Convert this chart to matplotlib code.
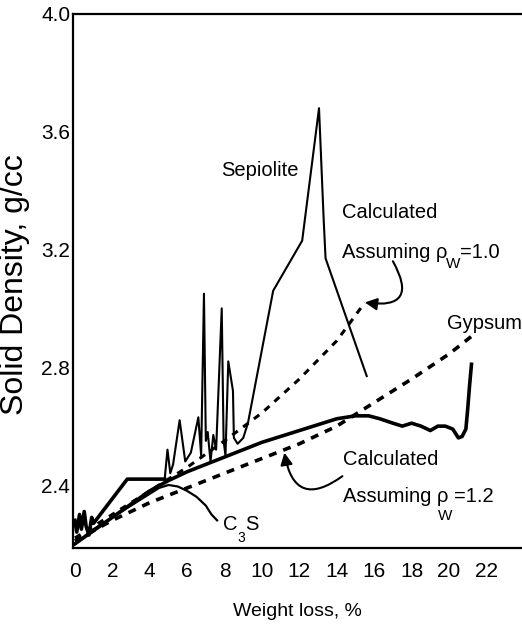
# Solid density vs weight loss
import matplotlib
matplotlib.use('Agg')
import matplotlib.pyplot as plt

plt.rcParams['font.family'] = ['Liberation Sans', 'DejaVu Sans']

# thick smooth curve with hook at the end
thick_x = [0, 1, 2, 3, 4, 5, 6, 7, 8, 9, 10, 11, 12, 13, 14, 15, 15.7, 16.3, 17.0, 17.5,
           18.0, 18.5, 19.0, 19.4, 19.8, 20.2, 20.5, 20.7, 20.9, 21.0, 21.1, 21.2]
thick_y = [2.20, 2.245, 2.29, 2.335, 2.38, 2.415, 2.445, 2.47, 2.495, 2.52, 2.545, 2.565,
           2.585, 2.605, 2.625, 2.635, 2.635, 2.625, 2.61, 2.60, 2.61, 2.60, 2.585, 2.60,
           2.60, 2.59, 2.56, 2.565, 2.59, 2.66, 2.74, 2.81]

# thick stepped start of the sepiolite record
step_x = [0, 0.1, 0.25, 0.35, 0.5, 0.6, 0.75, 0.9, 1.0, 2.8, 4.8]
step_y = [2.28, 2.24, 2.30, 2.25, 2.31, 2.26, 2.23, 2.29, 2.27, 2.42, 2.42]

# sepiolite (thin)
sep_x = [4.8, 4.95, 5.1, 5.25, 5.6, 5.9, 6.2, 6.6, 6.75, 6.9, 7.0, 7.1, 7.25, 7.4, 7.55,
         7.85, 7.95, 8.05, 8.2, 8.45, 8.5, 8.7, 9.0, 9.25, 10.6, 12.15, 13.05, 13.3, 13.4, 15.6]
sep_y = [2.42, 2.52, 2.44, 2.47, 2.62, 2.48, 2.51, 2.63, 2.50, 3.05, 2.55, 2.58, 2.48, 2.57,
         2.52, 3.00, 2.55, 2.50, 2.82, 2.72, 2.56, 2.54, 2.56, 2.61, 3.06, 3.23, 3.68, 3.30,
         3.17, 2.77]

# calculated, rho_w = 1.0 (dashed)
calc1_x = [0, 2, 4, 6, 8, 10, 12, 14, 15.5]
calc1_y = [2.22, 2.30, 2.38, 2.46, 2.55, 2.645, 2.76, 2.89, 3.02]

# gypsum / calculated rho_w = 1.2 (dashed)
gyp_x = [0, 2, 4, 6, 8, 10, 12, 14, 16, 18, 20, 21.3]
gyp_y = [2.21, 2.28, 2.34, 2.39, 2.44, 2.49, 2.54, 2.60, 2.68, 2.76, 2.845, 2.91]

# C3S
c3s_x = [0, 1, 2, 3, 4, 4.5, 5, 5.5, 6, 6.5, 7, 7.3, 7.6]
c3s_y = [2.20, 2.25, 2.29, 2.33, 2.37, 2.39, 2.40, 2.395, 2.38, 2.36, 2.33, 2.30, 2.28]

xticks = [0, 2, 4, 6, 8, 10, 12, 14, 16, 18, 20, 22]
yticks = [2.4, 2.8, 3.2, 3.6, 4.0]

fig = plt.figure(figsize=(5.22, 6.33), dpi=100)
ax = fig.add_axes([73/522, 85/633, 449/522, 534/633])

ax.plot(thick_x, thick_y, color='black', lw=2.6, solid_joinstyle='round')
ax.plot(step_x, step_y, color='black', lw=2.6)
ax.plot(sep_x, sep_y, color='black', lw=1.5)
ax.plot(calc1_x, calc1_y, color='black', lw=2.2, ls=(0, (2.2, 2.2)))
ax.plot(gyp_x, gyp_y, color='black', lw=2.6, ls=(0, (2.2, 2.0)))
ax.plot(c3s_x, c3s_y, color='black', lw=1.6)

ax.set_xlim(-0.1, 23.9)
ax.set_ylim(2.186, 4.0)
ax.set_xticks(xticks)
ax.set_yticks(yticks)
ax.set_xticklabels([str(t) for t in xticks])
ax.set_yticklabels(['%.1f' % t for t in yticks])
ax.tick_params(length=0, labelsize=15)
ax.tick_params(axis='x', pad=10)
ax.tick_params(axis='y', pad=2)
for s in ['left', 'top', 'bottom']:
    ax.spines[s].set_linewidth(1.6)
ax.spines['right'].set_visible(False)

ax.set_xlabel('Weight loss, %', fontsize=14, labelpad=16)
fig.text(0.044, 0.55, 'Solid Density, g/cc', rotation=90, rotation_mode='anchor',
         ha='center', va='baseline', fontsize=23)

fs = 14.5
ax.text(9.9, 3.47, 'Sepiolite', fontsize=fs, ha='center', va='center')
ax.text(14.3, 3.324, 'Calculated', fontsize=fs, ha='left', va='center')
t1 = ax.text(14.3, 3.19, 'Assuming \u03c1', fontsize=fs, ha='left', va='center')
w1 = ax.annotate('W', xy=(0.98, 0.25), xycoords=t1, fontsize=11, ha='left', va='top')
ax.annotate('=1.0', xy=(1, 0.5), xycoords=(w1, t1), fontsize=fs, ha='left', va='center')

ax.text(19.9, 2.95, 'Gypsum', fontsize=fs, ha='left', va='center')

ax.text(14.33, 2.485, 'Calculated', fontsize=fs, ha='left', va='center')
t2 = ax.text(14.33, 2.36, 'Assuming \u03c1 ', fontsize=fs, ha='left', va='center')
w2 = ax.annotate('W', xy=(0.92, -0.15), xycoords=t2, fontsize=11, ha='center', va='top')
ax.annotate('=1.2', xy=(1, 0.5), xycoords=t2, fontsize=fs, ha='left', va='center')

c1 = ax.text(7.9, 2.265, 'C', fontsize=fs, ha='left', va='center')
c2 = ax.annotate('3', xy=(1, 0.15), xycoords=c1, fontsize=10, ha='left', va='top')
ax.annotate('S', xy=(1, 0.5), xycoords=(c2, c1), fontsize=fs, ha='left', va='center')

ax.annotate('', xy=(15.5, 3.02), xytext=(17.0, 3.16),
            arrowprops=dict(arrowstyle='-|>', color='black', lw=1.5, mutation_scale=18,
                            connectionstyle='arc3,rad=-1.0', shrinkA=0, shrinkB=0))
ax.annotate('', xy=(11.2, 2.51), xytext=(14.3, 2.43),
            arrowprops=dict(arrowstyle='-|>', color='black', lw=1.5, mutation_scale=18,
                            connectionstyle='arc3,rad=-0.8', shrinkA=0, shrinkB=0))

fig.savefig('out.png', dpi=100)
